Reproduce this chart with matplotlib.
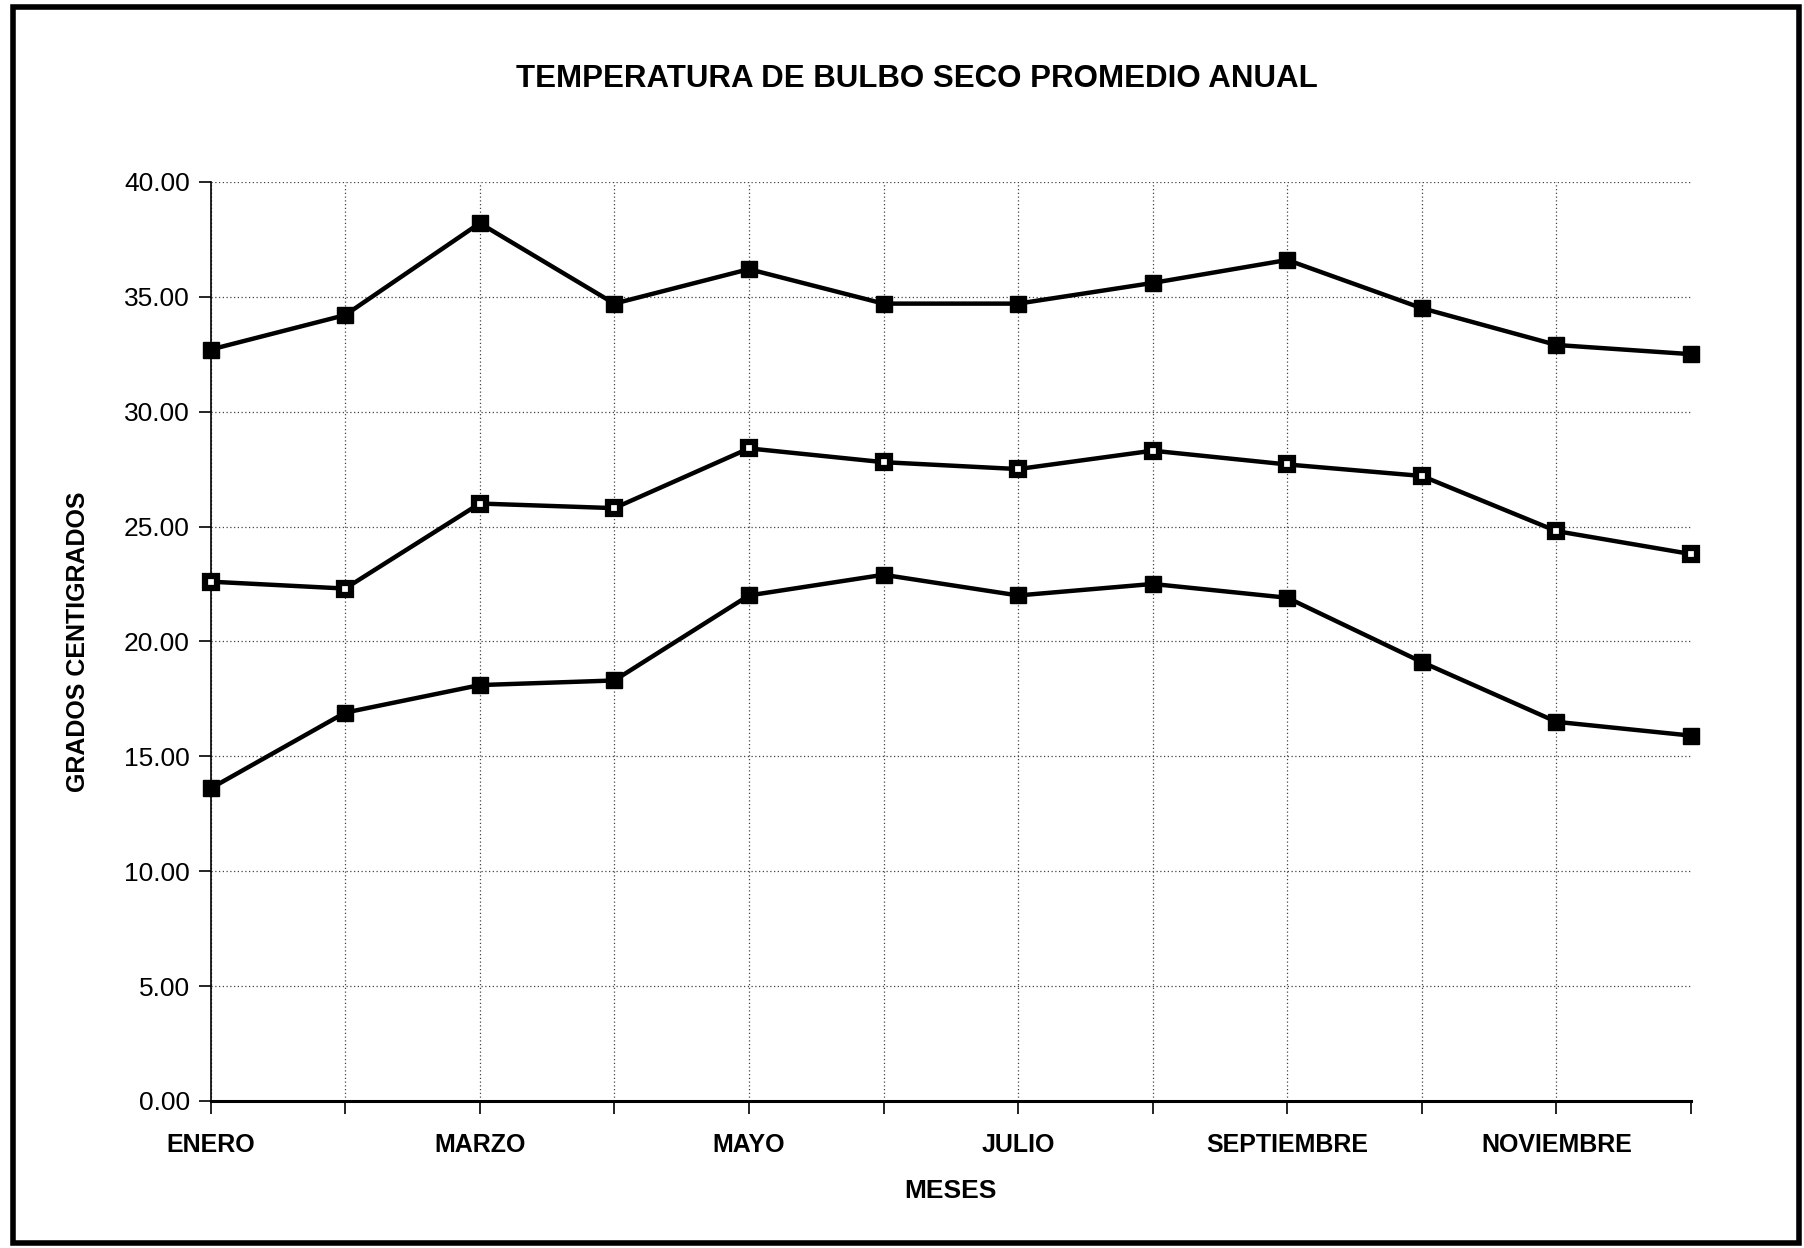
import matplotlib
matplotlib.use("Agg")
import matplotlib.pyplot as plt
from matplotlib.patches import Rectangle

# Datos (grados centigrados)
meses = ["ENERO", "FEBRERO", "MARZO", "ABRIL", "MAYO", "JUNIO", "JULIO",
         "AGOSTO", "SEPTIEMBRE", "OCTUBRE", "NOVIEMBRE", "DICIEMBRE"]
temp_max = [32.7, 34.2, 38.2, 34.7, 36.2, 34.7, 34.7, 35.6, 36.6, 34.5, 32.9, 32.5]
temp_med = [22.6, 22.3, 26.0, 25.8, 28.4, 27.8, 27.5, 28.3, 27.7, 27.2, 24.8, 23.8]
temp_min = [13.6, 16.9, 18.1, 18.3, 22.0, 22.9, 22.0, 22.5, 21.9, 19.1, 16.5, 15.9]
y_ticks = [0, 5, 10, 15, 20, 25, 30, 35, 40]

fuente = ["Liberation Sans", "DejaVu Sans"]

fig = plt.figure(figsize=(18.04, 12.48), dpi=100)
ax = fig.add_axes([0.1167, 0.1178, 0.8207, 0.7365])

x = list(range(len(meses)))
estilo = dict(color="black", lw=3.2, marker="s", mec="black", clip_on=False, zorder=3)
ax.plot(x, temp_max, ms=11.5, mfc="black", **estilo)
ax.plot(x, temp_med, ms=9, mfc="white", mew=4.5, **estilo)
ax.plot(x, temp_min, ms=11.5, mfc="black", **estilo)

ax.set_xlim(0, len(meses) - 1)
ax.set_ylim(0, 40)
ax.set_yticks(y_ticks)
ax.set_yticklabels([f"{v:.2f}" for v in y_ticks], fontsize=19, family=fuente)
ax.set_xticks(x)
ax.set_xticklabels([m if i % 2 == 0 else "" for i, m in enumerate(meses)],
                   fontsize=18, family=fuente, fontweight="bold")
ax.tick_params(axis="y", direction="out", length=9, width=1.2, pad=6)
ax.tick_params(axis="x", direction="out", length=9, width=1.2, pad=14)

ax.grid(True, linestyle=(0, (1, 2)), color="#444444", linewidth=0.9)
ax.xaxis.get_gridlines()[-1].set_visible(False)
ax.set_axisbelow(True)

for s in ["top", "right"]:
    ax.spines[s].set_visible(False)
ax.spines["left"].set_linewidth(1.2)
ax.spines["bottom"].set_linewidth(2.2)

ax.set_xlabel("MESES", fontsize=19, family=fuente, fontweight="bold", labelpad=16)
ax.set_ylabel("GRADOS CENTIGRADOS", fontsize=18, family=fuente, fontweight="bold", labelpad=24)
fig.text(0.508, 0.937, "TEMPERATURA DE BULBO SECO PROMEDIO ANUAL", ha="center", va="center",
         fontsize=22.5, family=fuente, fontweight="bold")

# Marco exterior
fig.patches.append(Rectangle((0.007, 0.004), 0.99, 0.99, transform=fig.transFigure,
                             fill=False, edgecolor="black", linewidth=4))

fig.savefig("out.png", dpi=100)
